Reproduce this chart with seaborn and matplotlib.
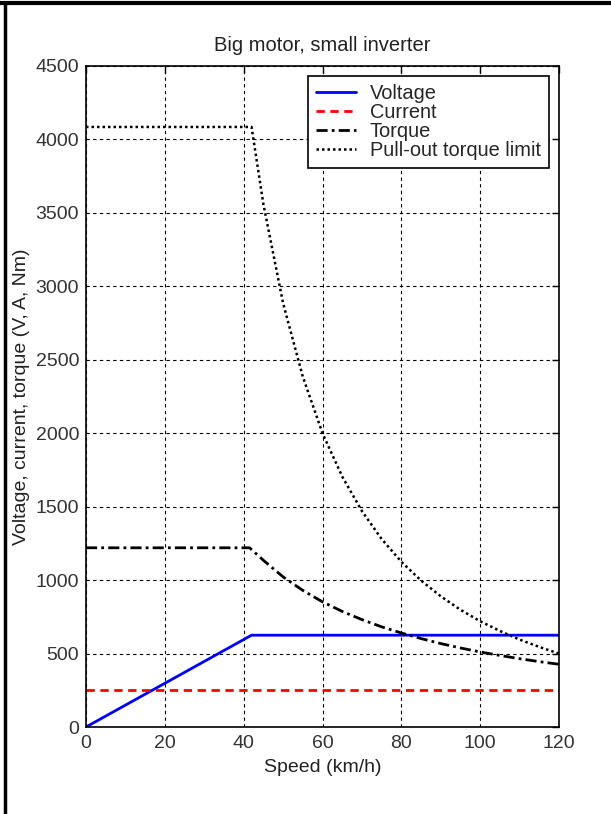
import numpy as np
import pandas as pd
import matplotlib
matplotlib.use("Agg")
import matplotlib.pyplot as plt
import seaborn as sns
from matplotlib.lines import Line2D

# values
voltage_speed = [0, 42, 120]
voltage = [0, 625, 625]

current_speed = [0, 120]
current = [250, 250]

torque_speed = [0, 41.5, 45, 50, 55, 60, 65, 70, 75, 80, 85, 90, 95, 100, 105, 110, 115, 120]
torque = [1220, 1220, 1135, 1022, 930, 852, 787, 731, 682, 640, 602, 568, 538, 511, 487, 465, 445, 427]

pullout_speed = [0, 42, 45, 50, 55, 60, 65, 70, 75, 80, 85, 90, 95, 100, 105, 110, 115, 120]
pullout = [4085, 4085, 3560, 2885, 2385, 2000, 1705, 1470, 1280, 1125, 997, 890, 798, 720, 654, 595, 545, 500]

sns.set_style("white")
plt.rcParams['font.family'] = ['Liberation Sans', 'DejaVu Sans']

fig = plt.figure(figsize=(6.11, 8.14), dpi=100)
ax = fig.add_axes([86/611, 1 - 727/814, 473/611, 661/814])

sns.lineplot(x=voltage_speed, y=voltage, ax=ax, color='#0000ff', lw=2, label='Voltage')
sns.lineplot(x=current_speed, y=current, ax=ax, color='#ff0000', lw=2, linestyle=(0, (3, 2)), label='Current')
sns.lineplot(x=torque_speed, y=torque, ax=ax, color='black', lw=2, linestyle=(0, (4, 1.5, 1, 1.5)), label='Torque')
sns.lineplot(x=pullout_speed, y=pullout, ax=ax, color='black', lw=1.8, linestyle=(0, (1, 1.2)), label='Pull-out torque limit')

ax.set_xlim(0, 120)
ax.set_ylim(0, 4500)
ax.set_xticks(np.arange(0, 121, 20))
ax.set_yticks(np.arange(0, 4501, 500))
ax.grid(True, color='black', linestyle=(0, (3, 3)), linewidth=0.8)
ax.tick_params(direction='in', top=True, right=True, length=5, width=1, labelsize=14, colors='black')
ax.tick_params(axis='x', pad=6)
ax.tick_params(axis='y', pad=5)
for tl in ax.get_xticklabels() + ax.get_yticklabels():
    tl.set_color('#333333')
for s in ax.spines.values():
    s.set_color('black')
    s.set_linewidth(1.2)

ax.set_title('Big motor, small inverter', fontsize=14.5, color='#222222', pad=11)
ax.set_xlabel('Speed (km/h)', fontsize=14, color='#222222', labelpad=5)
ax.set_ylabel('Voltage, current, torque (V, A, Nm)', fontsize=14, color='#222222', labelpad=4)

leg = ax.legend(loc='upper right', fontsize=14.4, frameon=True, fancybox=False, shadow=False,
                handlelength=2.0, borderaxespad=0.5, labelspacing=0.0, borderpad=0.4, handletextpad=0.7)
leg.get_frame().set_edgecolor('black')
leg.get_frame().set_linewidth(1.2)
leg.get_frame().set_alpha(1)

# screenshot frame (top and left only)
fig.add_artist(Line2D([0, 1], [1 - 3/814, 1 - 3/814], transform=fig.transFigure, color='black', lw=3))
fig.add_artist(Line2D([5/611, 5/611], [0, 1 - 3/814], transform=fig.transFigure, color='black', lw=2.5))

fig.savefig('out.png', dpi=100)
